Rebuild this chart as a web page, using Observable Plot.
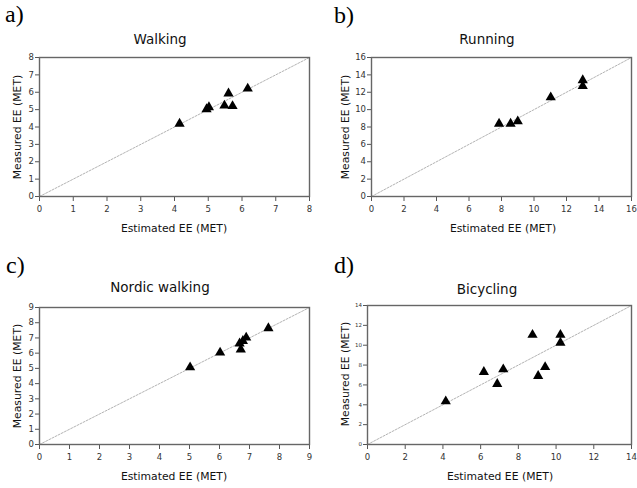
<!DOCTYPE html>
<html>
<head>
<meta charset="utf-8">
<script src="https://cdn.jsdelivr.net/npm/d3@7"></script>
<script src="https://cdn.jsdelivr.net/npm/@observablehq/plot@0.6"></script>
<style>
  html, body { margin: 0; padding: 0; background: #fff; }
  #wrap { position: relative; width: 637px; height: 488px; overflow: hidden; font-family: "DejaVu Sans", Verdana, sans-serif; }
  .panel { position: absolute; }
  #overlay { position: absolute; left: 0; top: 0; pointer-events: none; }
</style>
</head>
<body>
<div id="wrap"></div>
<script>
// ---- data ----
const panelLetters = ["a)", "b)", "c)", "d)"];
const panelTitles = ["Walking", "Running", "Nordic walking", "Bicycling"];
const xAxisTitle = "Estimated EE (MET)";
const yAxisTitle = "Measured EE (MET)";

const walkEst  = [4.15, 4.95, 5.02, 5.48, 5.60, 5.72, 6.17];
const walkMeas = [4.19, 5.02, 5.14, 5.23, 5.93, 5.20, 6.21];

const runEst  = [7.85, 8.56, 9.00, 11.03, 13.00, 13.00];
const runMeas = [8.38, 8.38, 8.65, 11.42, 13.38, 12.70];

const nordEst  = [5.02, 6.02, 6.67, 6.78, 6.71, 6.89, 7.63];
const nordMeas = [5.07, 6.04, 6.64, 6.80, 6.24, 7.02, 7.64];

const bikeEst  = [4.15, 6.17, 6.88, 7.20, 8.75, 9.05, 9.42, 10.23, 10.23];
const bikeMeas = [4.35, 7.30, 6.10, 7.57, 11.05, 6.90, 7.80, 11.05, 10.25];

const walkTicks = [0, 1, 2, 3, 4, 5, 6, 7, 8];
const runTicks  = [0, 2, 4, 6, 8, 10, 12, 14, 16];
const nordTicks = [0, 1, 2, 3, 4, 5, 6, 7, 8, 9];
const bikeTicks = [0, 2, 4, 6, 8, 10, 12, 14];

// ---- layout ----
const panels = [
  {est: walkEst, meas: walkMeas, ticks: walkTicks, left: 0,   top: 0,   w: 318, h: 244, ml: 39, mr: 9, mt: 57, mb: 48, yFont: 8},
  {est: runEst,  meas: runMeas,  ticks: runTicks,  left: 318, top: 0,   w: 319, h: 244, ml: 53, mr: 6, mt: 57, mb: 48, yFont: 8},
  {est: nordEst, meas: nordMeas, ticks: nordTicks, left: 0,   top: 244, w: 318, h: 244, ml: 39, mr: 9, mt: 63, mb: 44, yFont: 8},
  {est: bikeEst, meas: bikeMeas, ticks: bikeTicks, left: 318, top: 244, w: 319, h: 244, ml: 49, mr: 6, mt: 61, mb: 44, yFont: 5}
];

const wrap = document.getElementById("wrap");

panels.forEach((p) => {
  const pts = p.est.map((e, i) => ({est: e, meas: p.meas[i]}));
  const maxV = p.ticks[p.ticks.length - 1];
  const diag = [{v: 0}, {v: maxV}];
  const chart = Plot.plot({
    width: p.w,
    height: p.h,
    marginLeft: p.ml,
    marginRight: p.mr,
    marginTop: p.mt,
    marginBottom: p.mb,
    style: {fontFamily: "DejaVu Sans, Verdana, sans-serif", background: "transparent"},
    x: {domain: [0, maxV], ticks: p.ticks, label: null},
    y: {domain: [0, maxV], ticks: p.ticks, label: null},
    marks: [
      Plot.line(diag, {x: "v", y: "v", stroke: "#aaa", strokeWidth: 0.9, strokeDasharray: "2,1.5"}),
      Plot.axisX({ticks: p.ticks, tickSize: 5, tickPadding: 4, fontSize: 8.5, stroke: "#555", color: "#333", label: null}),
      Plot.axisY({ticks: p.ticks, tickSize: 4, tickPadding: 1.5, fontSize: p.yFont + 0.5, stroke: "#555", color: "#333", label: null}),
      Plot.frame({stroke: "#666", strokeWidth: 1.4}),
      Plot.dot(pts, {x: "est", y: "meas", symbol: "triangle", r: 3.8, fill: "#000", stroke: "none"})
    ]
  });
  const div = document.createElement("div");
  div.className = "panel";
  div.style.left = p.left + "px";
  div.style.top = p.top + "px";
  div.appendChild(chart);
  wrap.appendChild(div);
});

// ---- overlay texts ----
const ov = d3.select(wrap).append("svg")
  .attr("id", "overlay").attr("width", 637).attr("height", 488);

const letterPos = [[5, 22], [334, 23], [6, 273], [334, 273]];
const titlePos = [[160, 44], [487, 44], [160, 292], [487, 294]];
const xTitlePos = [[174, 232], [503, 232], [174, 480], [500, 480]];
const yTitlePos = [[17, 127], [345, 127], [17, 376], [345, 374]];

panelLetters.forEach((t, i) => {
  ov.append("text").attr("x", letterPos[i][0]).attr("y", letterPos[i][1])
    .attr("font-family", "Liberation Serif, Times New Roman, serif").attr("font-size", 24).attr("fill", "#000").text(t);
});
panelTitles.forEach((t, i) => {
  ov.append("text").attr("x", titlePos[i][0]).attr("y", titlePos[i][1]).attr("text-anchor", "middle")
    .attr("font-family", "DejaVu Sans, Verdana, sans-serif").attr("font-size", 13.5).attr("fill", "#111").text(t);
});
xTitlePos.forEach((pos) => {
  ov.append("text").attr("x", pos[0]).attr("y", pos[1]).attr("text-anchor", "middle")
    .attr("font-family", "DejaVu Sans, Verdana, sans-serif").attr("font-size", 10.8).attr("fill", "#111").text(xAxisTitle);
});
yTitlePos.forEach((pos) => {
  ov.append("text").attr("transform", `translate(${pos[0]},${pos[1]}) rotate(-90)`)
    .attr("text-anchor", "middle").attr("dy", "0.35em")
    .attr("font-family", "DejaVu Sans, Verdana, sans-serif").attr("font-size", 10.8).attr("fill", "#111").text(yAxisTitle);
});
</script>
</body>
</html>
